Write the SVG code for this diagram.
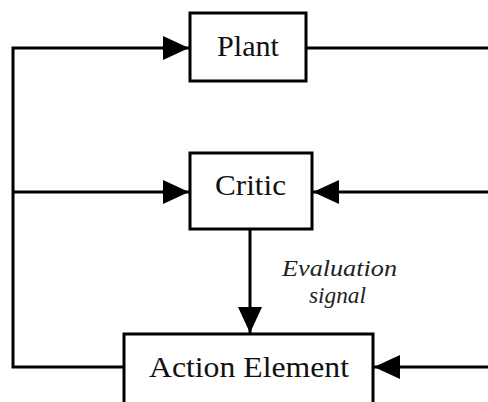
<svg xmlns="http://www.w3.org/2000/svg" width="488" height="402" viewBox="0 0 488 402">
<style>
.box{fill:#fff;stroke:#000;stroke-width:3}
.ln{fill:none;stroke:#000;stroke-width:3}
.lbl{font-family:"Liberation Serif","Times New Roman",serif;font-size:30px;fill:#111}
.it{font-family:"Liberation Serif","Times New Roman",serif;font-size:23px;font-style:italic;fill:#222}
</style>
<defs>
<marker id="ah" markerUnits="userSpaceOnUse" markerWidth="26" markerHeight="24" refX="26" refY="12" orient="auto">
<path d="M0,0 L26,12 L0,24 z" fill="#000"/>
</marker>
</defs>
<rect width="488" height="402" fill="#fff"/>
<g id="connectors">
<line class="ln" x1="307" y1="48" x2="488" y2="48"/>
<path class="ln" d="M123,367 H13 V48 H189" marker-end="url(#ah)"/>
<line class="ln" x1="13" y1="192" x2="189" y2="192" marker-end="url(#ah)"/>
<line class="ln" x1="488" y1="192" x2="313" y2="192" marker-end="url(#ah)"/>
<line class="ln" x1="488" y1="367" x2="374" y2="367" marker-end="url(#ah)"/>
<line class="ln" x1="250" y1="230" x2="250" y2="333" marker-end="url(#ah)"/>
<text class="it" x="282" y="276" textLength="115" lengthAdjust="spacingAndGlyphs">Evaluation</text>
<text class="it" x="309" y="303" textLength="57" lengthAdjust="spacingAndGlyphs">signal</text>
</g>
<g id="plant">
<rect class="box" x="190" y="13" width="116" height="68"/>
<text class="lbl" x="217" y="56" textLength="62" lengthAdjust="spacingAndGlyphs">Plant</text>
</g>
<g id="critic">
<rect class="box" x="190" y="153" width="122" height="76"/>
<text class="lbl" x="215" y="195" textLength="71" lengthAdjust="spacingAndGlyphs">Critic</text>
</g>
<g id="action-element">
<rect class="box" x="124" y="334" width="249" height="100"/>
<text class="lbl" x="149" y="377" textLength="200" lengthAdjust="spacingAndGlyphs">Action Element</text>
</g>
</svg>
